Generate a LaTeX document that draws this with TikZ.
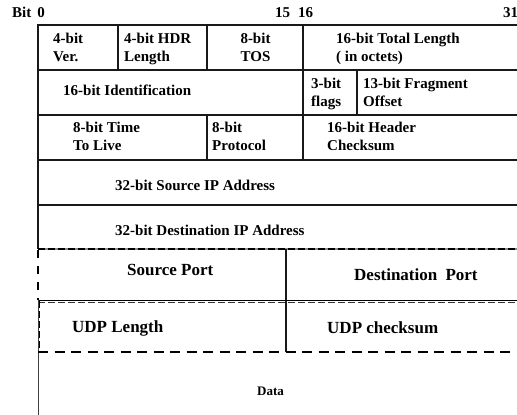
\documentclass[tikz,border=0pt]{standalone}
\usepackage{fontspec}
\setmainfont{Liberation Serif}
\begin{document}
\begin{tikzpicture}[x=1pt,y=-1pt,
  lbl/.style={inner sep=0pt,anchor=base west,font=\bfseries\fontsize{15}{18}\selectfont},
  lblc/.style={lbl,anchor=base},
  big/.style={inner sep=0pt,anchor=base west,font=\bfseries\fontsize{17}{20}\selectfont},
  small/.style={inner sep=0pt,anchor=base west,font=\bfseries\fontsize{13}{16}\selectfont},
  rule/.style={line width=1.6pt,black!90},
  vrule/.style={line width=1.5pt,black!90}]
\useasboundingbox (0,0) rectangle (517,415);
% bit numbers
\node[lbl] (b0) at (12,17) {Bit\hspace{6pt}0};
\node[lbl] (b15) at (275,17) {15\hspace{8pt}16};
\node[lbl] (b31) at (503,17) {31};
% horizontal solid rules
\foreach \y in {25,70,115,160,205} \draw[rule] (38,\y) -- (517,\y);
% left edge solid
\draw[vrule] (38,24.2) -- (38,249);
% row 1 verticals
\foreach \x in {118,207,303} \draw[vrule] (\x,25) -- (\x,70);
% row 2 verticals
\foreach \x in {303,357} \draw[vrule] (\x,70) -- (\x,115);
% row 3 verticals
\foreach \x in {207,303} \draw[vrule] (\x,115) -- (\x,160);
% dashed boundary at 249
\draw[line width=1.4pt,black!45] (38,249) -- (517,249);
\draw[line width=1.6pt,black,dash pattern=on 7pt off 3pt] (38,249) -- (517,249);
% left edge dashed for source port row
\draw[line width=2pt,black,dash pattern=on 8pt off 8pt] (38,250) -- (38,300);
% port divider
\draw[vrule] (286,249) -- (286,352);
% line at 301
\draw[line width=1.5pt,black] (38,300.5) -- (517,300.5);
\draw[line width=1.2pt,black!80,dash pattern=on 7pt off 3pt] (38,302.2) -- (517,302.2);
% left edge lower
\draw[line width=1pt,black!75] (38,300) -- (38,415);
\draw[line width=1.2pt,black,dash pattern=on 7pt off 3pt] (39.6,301) -- (39.6,352);
% dashed line at 352
\draw[line width=2pt,black,dash pattern=on 10pt off 6.5pt] (38,352) -- (517,352);
% row 1 texts
\node[lbl] (v1) at (53,43) {4-bit};
\node[lbl] (v2) at (53,61.5) {Ver.};
\node[lbl] (h1) at (124,43) {4-bit HDR};
\node[lbl] (h2) at (124,61.5) {Length};
\node[lblc] (t1) at (255.5,43) {8-bit};
\node[lblc] (t2) at (255.5,61.5) {TOS};
\node[lbl] (l1) at (336,43) {16-bit Total Length};
\node[lbl] (l2) at (336,61.5) {( in octets)};
% row 2
\node[lbl] (id) at (63,95) {16-bit Identification};
\node[lbl] (f1) at (311,88) {3-bit};
\node[lbl] (f2) at (311,106) {flags};
\node[lbl] (o1) at (363,88) {13-bit Fragment};
\node[lbl] (o2) at (363,106) {Offset};
% row 3
\node[lbl] (ttl1) at (73,132.5) {8-bit Time};
\node[lbl] (ttl2) at (73,150.5) {To Live};
\node[lbl] (p1) at (212,132.5) {8-bit};
\node[lbl] (p2) at (212,150.5) {Protocol};
\node[lbl] (c1) at (327,132.5) {16-bit Header};
\node[lbl] (c2) at (327,150.5) {Checksum};
% rows 4,5
\node[lbl] (src) at (115,190.5) {32-bit Source IP Address};
\node[lbl] (dst) at (115,235) {32-bit Destination IP Address};
% UDP
\node[big] (sp) at (127,275.5) {Source Port};
\node[big] (dp) at (354,280.5) {Destination\hspace{4pt} Port};
\node[big] (ul) at (72,332.5) {UDP Length};
\node[big] (uc) at (327,333) {UDP checksum};
\node[small] (data) at (257,395) {Data};
\end{tikzpicture}
\end{document}
